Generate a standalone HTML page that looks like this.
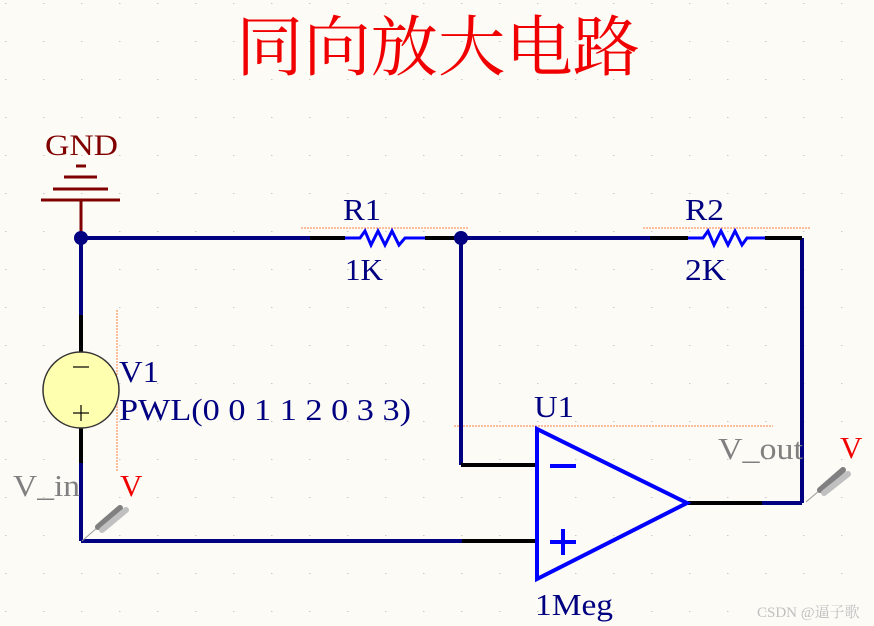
<!DOCTYPE html>
<html><head><meta charset="utf-8"><style>
body{margin:0;background:#fdfbf6;}
svg{display:block}
text{font-family:"Liberation Serif","Noto Serif CJK SC",serif;}
</style></head><body>
<svg width="874" height="626" viewBox="0 0 874 626">
<defs><pattern id="g" width="38" height="38" patternUnits="userSpaceOnUse" x="5" y="3"><rect x="0" y="0" width="1.5" height="1" fill="#c8c8c8"/></pattern></defs>
<rect width="874" height="626" fill="#fdfbf6"/>
<rect width="874" height="626" fill="url(#g)"/>
<text x="236" y="70" font-size="66" fill="#f00000" textLength="404" lengthAdjust="spacingAndGlyphs" font-family="Noto Serif CJK SC,serif">同向放大电路</text>
<!-- GND -->
<text x="45" y="155" font-size="30" fill="#800000" textLength="73" lengthAdjust="spacingAndGlyphs">GND</text>
<g stroke="#800000" stroke-width="3">
<line x1="81" y1="200" x2="81" y2="238"/>
<line x1="41" y1="200" x2="120" y2="200"/>
<line x1="53" y1="189" x2="108" y2="189"/>
<line x1="64" y1="177" x2="97" y2="177"/>
<line x1="76" y1="166" x2="86" y2="166"/>
</g>
<g stroke="#ff8040" stroke-width="1" fill="none" stroke-dasharray="2 1">
<line x1="301" y1="228" x2="468" y2="228"/>
<line x1="643" y1="228" x2="810" y2="228"/>
<line x1="454" y1="426" x2="773" y2="426"/>
<line x1="117" y1="310" x2="117" y2="472"/>
</g>
<g stroke="#000080" stroke-width="4" fill="none">
<line x1="81" y1="238" x2="310" y2="238"/>
<line x1="461" y1="238" x2="650" y2="238"/>
<line x1="802" y1="238" x2="802" y2="503"/>
<line x1="81" y1="238" x2="81" y2="315"/>
<line x1="81" y1="463" x2="81" y2="541"/>
<line x1="81" y1="541" x2="462" y2="541"/>
<line x1="461" y1="238" x2="461" y2="465"/>
<line x1="762" y1="503" x2="802" y2="503"/>
</g>
<g stroke="#000" stroke-width="4">
<line x1="310" y1="238" x2="345" y2="238"/>
<line x1="425" y1="238" x2="460" y2="238"/>
<line x1="650" y1="238" x2="688" y2="238"/>
<line x1="765" y1="238" x2="802" y2="238"/>
<line x1="81" y1="315" x2="81" y2="352"/>
<line x1="81" y1="428" x2="81" y2="463"/>
<line x1="461" y1="465" x2="536" y2="465"/>
<line x1="462" y1="541" x2="536" y2="541"/>
<line x1="688" y1="503" x2="762" y2="503"/>
</g>
<g stroke="#0000ff" stroke-width="3" fill="none">
<polyline points="345,238 360,238 365,231 371,245 378,231 385,245 392,231 399,245 405,238 425,238"/>
<polyline points="688,238 703,238 708,231 714,245 721,231 728,245 735,231 742,245 747,238 765,238"/>
<polygon points="537,429 537,579 687,503" stroke-width="4"/>
<line x1="550" y1="466" x2="576" y2="466" stroke-width="4"/>
<line x1="550" y1="542" x2="576" y2="542" stroke-width="4"/>
<line x1="563" y1="529" x2="563" y2="555" stroke-width="4"/>
</g>
<circle cx="81" cy="238" r="7" fill="#000080"/>
<circle cx="461" cy="238" r="7" fill="#000080"/>
<circle cx="81" cy="390" r="38" fill="#ffffb0" stroke="#333" stroke-width="1.5"/>
<line x1="73" y1="367" x2="89" y2="367" stroke="#000" stroke-width="1.2"/>
<line x1="73" y1="413" x2="89" y2="413" stroke="#000" stroke-width="1.2"/>
<line x1="81" y1="405" x2="81" y2="421" stroke="#000" stroke-width="1.2"/>
<g fill="#000080" font-size="31">
<text x="343" y="220" textLength="38" lengthAdjust="spacingAndGlyphs">R1</text>
<text x="345" y="280" textLength="38" lengthAdjust="spacingAndGlyphs">1K</text>
<text x="685" y="220" textLength="39" lengthAdjust="spacingAndGlyphs">R2</text>
<text x="685" y="280" textLength="41" lengthAdjust="spacingAndGlyphs">2K</text>
<text x="119" y="382" textLength="40" lengthAdjust="spacingAndGlyphs">V1</text>
<text x="119" y="420" textLength="292" lengthAdjust="spacingAndGlyphs">PWL(0 0 1 1 2 0 3 3)</text>
<text x="534" y="417" textLength="40" lengthAdjust="spacingAndGlyphs">U1</text>
<text x="535" y="615" textLength="78" lengthAdjust="spacingAndGlyphs">1Meg</text>
</g>
<g fill="#808080" font-size="31">
<text x="13" y="496" textLength="67" lengthAdjust="spacingAndGlyphs">V_in</text>
<text x="718" y="459" textLength="85" lengthAdjust="spacingAndGlyphs">V_out</text>
</g>
<g fill="#f00000" font-size="31">
<text x="120" y="496">V</text>
<text x="840" y="458">V</text>
</g>
<g>
<line x1="82" y1="541" x2="98" y2="527" stroke="#999" stroke-width="1"/>
<line x1="98" y1="527" x2="120" y2="508" stroke="#808080" stroke-width="6" stroke-linecap="round"/>
<line x1="102" y1="530" x2="126" y2="510" stroke="#c0c0c0" stroke-width="6" stroke-linecap="round"/>
<line x1="806" y1="502" x2="820" y2="490" stroke="#999" stroke-width="1"/>
<line x1="820" y1="490" x2="843" y2="470" stroke="#808080" stroke-width="6" stroke-linecap="round"/>
<line x1="824" y1="493" x2="848" y2="474" stroke="#c0c0c0" stroke-width="6" stroke-linecap="round"/>
</g>
<text x="757" y="617" font-size="15" fill="#c0c0c0" font-family="Liberation Sans,Noto Sans CJK SC,sans-serif">CSDN @逼子歌</text>
</svg>
</body></html>
